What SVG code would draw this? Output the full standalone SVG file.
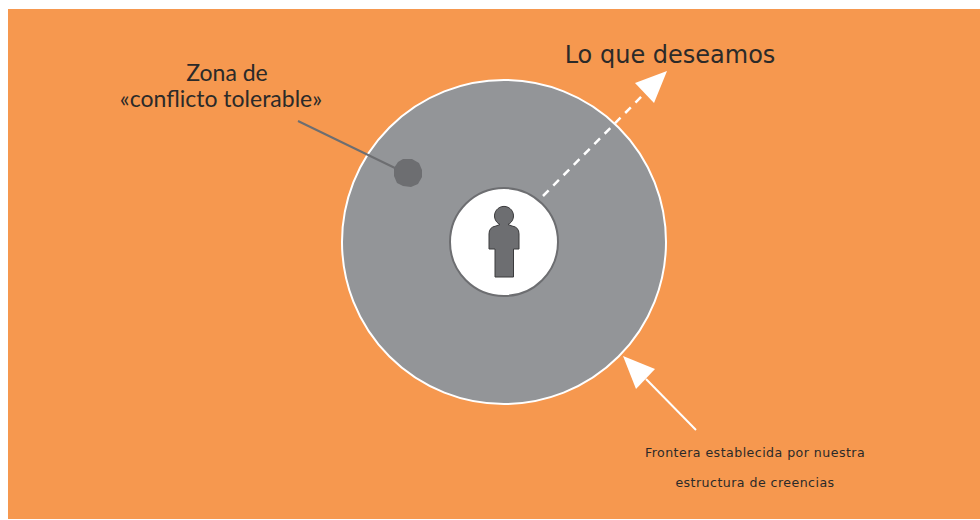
<svg xmlns="http://www.w3.org/2000/svg" width="980" height="520" viewBox="0 0 980 520">
<style>
.v{font-family:"DejaVu Sans",Verdana,sans-serif;fill:#2b2a29}
.c{font-family:Lato,"Open Sans",sans-serif;fill:#2b2a29;font-size:23px;text-anchor:middle}
.s{font-size:12.600px;letter-spacing:.45px;text-anchor:middle}
.w{fill:#fff}
</style>
<rect width="980" height="520" fill="#fff"/>
<rect x="8" y="9" width="972" height="510" fill="#f6984f"/>
<g id="outer-circle"><circle cx="504" cy="242" r="162" fill="#939598" stroke="#fff" stroke-width="2"/></g>
<g id="tolerable-zone"><polygon points="403,159 412,159 419,163 422,170 422,177 418,184 411,187 403,186 397,183 394,176 394,168 398,162" fill="#6d6e71"/></g>
<g id="connectors">
<line x1="298" y1="121" x2="397" y2="169" stroke="#6d6e71" stroke-width="2"/>
<line x1="543" y1="196" x2="642" y2="96" stroke="#fff" stroke-width="2.500" stroke-dasharray="8 6.600"/>
<polygon class="w" points="667,71 635,83 654,103"/>
<line x1="646" y1="379" x2="696" y2="430" stroke="#fff" stroke-width="2"/>
<polygon class="w" points="623,356 655,369 636,389"/>
</g>
<g id="person-circle">
<circle cx="504" cy="242" r="54" fill="#fff" stroke="#6d6e71" stroke-width="2"/>
<path d="M489 249V234Q489 227 496 226L500 224.500A9.500 9.500 0 1 1 508 224.500L512 226Q519 227 519 234V249H513.500V277H495V249Z" fill="#6d6e71" stroke="#3a3a3c" stroke-width="1"/>
</g>
<g id="label-deseamos"><text class="v" x="670" y="63" font-size="24" text-anchor="middle">Lo que deseamos</text></g>
<g id="label-zona"><text class="c" x="227" y="81">Zona de</text><text class="c" x="221" y="107">«conflicto tolerable»</text></g>
<g id="label-frontera"><text class="v s" x="755" y="457">Frontera establecida por nuestra</text><text class="v s" x="755" y="487">estructura de creencias</text></g>
</svg>
